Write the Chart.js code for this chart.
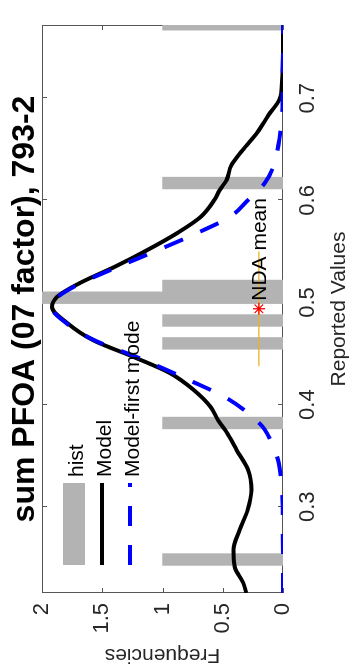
<!DOCTYPE html>
<html><head><meta charset="utf-8">
<script src="https://cdn.jsdelivr.net/npm/chart.js@4.4.1/dist/chart.umd.min.js"></script>
<style>
html,body{margin:0;padding:0;background:#fff;overflow:hidden}
#wrap{position:relative;width:350px;height:669px;overflow:hidden;background:#fff}
#rot{position:absolute;left:0;top:0;width:669px;height:350px;transform-origin:0 0;transform:translateY(669px) rotate(-90deg)}
</style></head><body>
<div id="wrap"><div id="rot"><canvas id="c" width="669" height="350"></canvas></div></div>
<script>
// ---- data ----
const titleText = 'sum PFOA (07 factor), 793-2';
const xLabel = 'Reported Values';
const yLabel = 'Frequencies';
const seriesNames = ['hist', 'Model', 'Model-first mode'];
const ndaLabel = 'NDA mean';

const histValues = [0.2483, 0.382, 0.4600, 0.4824, 0.5047, 0.5162, 0.617, 0.7725];
const histCounts = [1, 1, 1, 1, 2, 1, 1, 1];

const modelX = [0.2155, 0.2254, 0.241, 0.2577, 0.2773, 0.2968, 0.3164, 0.336, 0.3556, 0.3654, 0.3752, 0.385, 0.3977, 0.4143, 0.431, 0.4467, 0.4633, 0.4799, 0.4956, 0.5054, 0.5191, 0.5348, 0.5515, 0.5681, 0.5838, 0.6004, 0.6102, 0.620, 0.6347, 0.6494, 0.667, 0.6836, 0.700, 0.716, 0.7326, 0.7718];
const modelY = [0.305, 0.33, 0.40, 0.41, 0.36, 0.293, 0.262, 0.29, 0.385, 0.43, 0.48, 0.54, 0.60, 0.74, 0.94, 1.24, 1.58, 1.79, 1.918, 1.876, 1.686, 1.40, 1.125, 0.877, 0.684, 0.570, 0.525, 0.468, 0.428, 0.334, 0.21, 0.12, 0.025, 0.008, 0.002, 0];

const firstModeX = [0.2155, 0.30, 0.32, 0.343, 0.3556, 0.3753, 0.381, 0.4062, 0.4234, 0.4398, 0.4469, 0.4633, 0.4796, 0.4959, 0.5054, 0.5188, 0.535, 0.5514, 0.5678, 0.584, 0.6004, 0.6168, 0.633, 0.6494, 0.66, 0.68, 0.70, 0.7718];
const firstModeY = [0, 0.003, 0.012, 0.035, 0.07, 0.15, 0.19, 0.464, 0.768, 1.078, 1.22, 1.57, 1.796, 1.92, 1.87, 1.68, 1.368, 1.036, 0.718, 0.44, 0.29, 0.152, 0.08, 0.045, 0.03, 0.01, 0.004, 0];

const ndaMean = 0.4939;
const ndaLevel = 0.2;
const ndaRange = [0.4376, 0.5502];

const xTicks = [0.3, 0.4, 0.5, 0.6, 0.7];
const yTicks = [0, 0.5, 1, 1.5, 2];
const xRange = [0.2155, 0.7718];
const yRange = [0, 2];

// ---- chart ----
const FONT = "'Liberation Sans', Arial, Helvetica, sans-serif";
Chart.defaults.font.family = FONT;
Chart.defaults.color = '#262626';

const toPts = (xs, ys) => xs.map((x, i) => ({x: x, y: ys[i]}));

const decor = {
  id: 'decor',
  beforeDatasetsDraw(chart) {
    const {ctx, chartArea: ca, scales} = chart;
    ctx.save();
    ctx.strokeStyle = '#555';
    ctx.lineWidth = 1;
    ctx.strokeRect(ca.left + 0.5, ca.top + 0.5, ca.width - 1, ca.height - 1);
    const tl = 5;
    ctx.beginPath();
    scales.x.ticks.forEach(t => {
      const px = Math.round(scales.x.getPixelForValue(t.value)) + 0.5;
      ctx.moveTo(px, ca.bottom); ctx.lineTo(px, ca.bottom - tl);
      ctx.moveTo(px, ca.top); ctx.lineTo(px, ca.top + tl);
    });
    scales.y.ticks.forEach(t => {
      const py = Math.round(scales.y.getPixelForValue(t.value)) + 0.5;
      ctx.moveTo(ca.left, py); ctx.lineTo(ca.left + tl, py);
      ctx.moveTo(ca.right, py); ctx.lineTo(ca.right - tl, py);
    });
    ctx.stroke();
    ctx.restore();
  },
  afterDatasetsDraw(chart) {
    const {ctx, chartArea: ca, scales} = chart;
    const ds = chart.data.datasets;
    ctx.save();
    // NDA mean label
    ctx.font = '21px ' + FONT;
    ctx.fillStyle = '#000';
    ctx.textBaseline = 'middle';
    ctx.textAlign = 'left';
    ctx.fillText(ndaLabel, scales.x.getPixelForValue(ndaMean) + 8, scales.y.getPixelForValue(ndaLevel) + 1);
    // legend
    const x0 = ca.left + 28, w = 82;
    const rows = [ca.top + 32, ca.top + 60, ca.top + 88];
    for (let i = 0; i < 3; i++) {
      const d = ds[i];
      const y = rows[i];
      if (d.type === 'bar') {
        ctx.fillStyle = d.backgroundColor;
        ctx.fillRect(x0, y - 11, w, 22);
      } else {
        ctx.strokeStyle = d.borderColor;
        ctx.lineWidth = d.borderWidth;
        ctx.setLineDash(d.borderDash || []);
        ctx.beginPath();
        ctx.moveTo(x0, y); ctx.lineTo(x0 + w, y);
        ctx.stroke();
        ctx.setLineDash([]);
      }
      ctx.fillStyle = '#000';
      ctx.font = '21px ' + FONT;
      ctx.fillText(d.label, x0 + w + 6, y + 3);
    }
    ctx.restore();
  }
};

new Chart(document.getElementById('c'), {
  type: 'scatter',
  data: {
    datasets: [
      {
        type: 'bar', label: seriesNames[0],
        data: toPts(histValues, histCounts),
        backgroundColor: '#b3b3b3', borderWidth: 0,
        barPercentage: 1, categoryPercentage: 1,
        clip: 0, order: 5
      },
      {
        type: 'line', label: seriesNames[1],
        data: toPts(modelX, modelY),
        borderColor: '#000000', borderWidth: 4,
        pointRadius: 0, cubicInterpolationMode: 'monotone',
        fill: false, order: 4
      },
      {
        type: 'line', label: seriesNames[2],
        data: toPts(firstModeX, firstModeY),
        borderColor: '#0000ff', borderWidth: 4, borderDash: [20, 19],
        pointRadius: 0, cubicInterpolationMode: 'monotone',
        fill: false, order: 3
      },
      {
        type: 'line', label: '',
        data: [{x: ndaRange[0], y: ndaLevel}, {x: ndaRange[1], y: ndaLevel}],
        borderColor: '#EDB120', borderWidth: 1.2, pointRadius: 0, order: 2
      },
      {
        type: 'scatter', label: '',
        data: [{x: ndaMean, y: ndaLevel}],
        pointStyle: 'star', pointRadius: 6, borderColor: '#ff0000',
        backgroundColor: '#ff0000', borderWidth: 1.3, order: 1
      }
    ]
  },
  options: {
    responsive: false,
    animation: false,
    devicePixelRatio: 1,
    events: [],
    layout: {padding: {left: 0, right: 25, top: 0, bottom: 0}},
    plugins: {
      legend: {display: false},
      tooltip: {enabled: false},
      title: {
        display: true, text: titleText, color: '#000', fullSize: false,
        font: {size: 32, weight: 'bold', lineHeight: 1},
        padding: {top: 9, bottom: 1}
      }
    },
    scales: {
      x: {
        type: 'linear', min: xRange[0], max: xRange[1], offset: false,
        grid: {display: false, drawTicks: false}, border: {display: false},
        afterBuildTicks: s => { s.ticks = xTicks.map(v => ({value: v})); },
        afterFit: s => { s.height = 67; },
        ticks: {font: {size: 22, lineHeight: 1.2}, padding: 12, color: '#262626', callback: v => String(v)},
        title: {display: true, text: xLabel, font: {size: 21, lineHeight: 1}, padding: {top: 0, bottom: 0}, color: '#262626'}
      },
      y: {
        type: 'linear', min: yRange[0], max: yRange[1],
        grid: {display: false, drawTicks: false}, border: {display: false},
        afterBuildTicks: s => { s.ticks = yTicks.map(v => ({value: v})); },
        afterFit: s => { s.width = 76; },
        ticks: {font: {size: 22}, padding: 10, color: '#262626', callback: v => String(v)},
        title: {display: true, text: yLabel, font: {size: 21, lineHeight: 1}, padding: {top: 4, bottom: 0}, color: '#262626'}
      }
    }
  },
  plugins: [decor]
});
</script>
</body></html>
